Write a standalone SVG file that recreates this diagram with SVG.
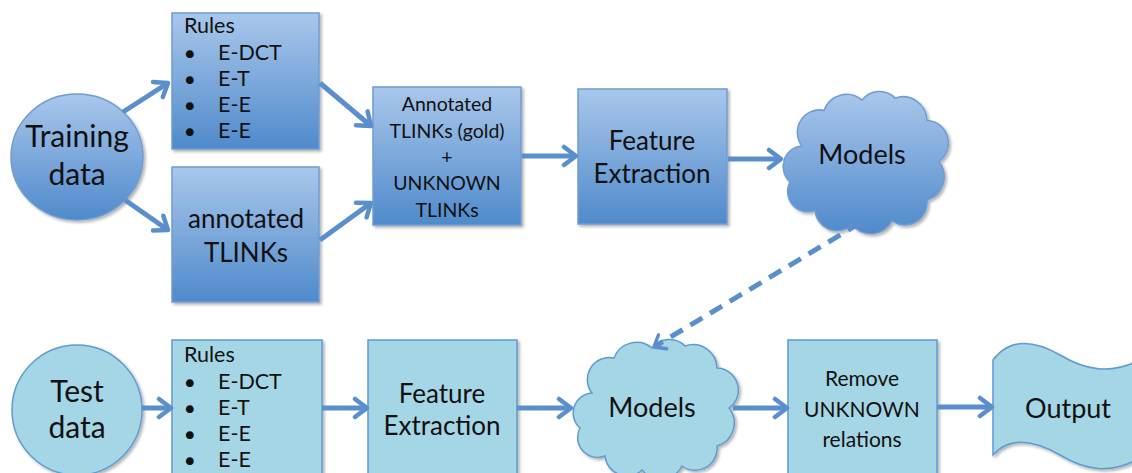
<svg xmlns="http://www.w3.org/2000/svg" width="1132" height="473" viewBox="0 0 1132 473">
<defs>
<linearGradient id="gTop" x1="0" y1="0" x2="0" y2="1">
<stop offset="0" stop-color="#a9c7eb"/>
<stop offset="1" stop-color="#4f8acb"/>
</linearGradient>
<filter id="sh" x="-10%" y="-10%" width="125%" height="125%">
<feDropShadow dx="2" dy="2" stdDeviation="1.5" flood-color="#000" flood-opacity="0.3"/>
</filter>
<marker id="ah" viewBox="0 0 18 24" refX="15" refY="12" markerWidth="18" markerHeight="24" markerUnits="userSpaceOnUse" orient="auto">
<path d="M3,3 L15,12 L3,21" fill="none" stroke="#5a8fcb" stroke-width="4.5" stroke-linecap="round" stroke-linejoin="round"/>
</marker>
<marker id="ahd" viewBox="0 0 16 22" refX="13" refY="11" markerWidth="16" markerHeight="22" markerUnits="userSpaceOnUse" orient="auto">
<path d="M3,3 L13,11 L3,19" fill="none" stroke="#5a8fcb" stroke-width="3.5" stroke-linecap="round" stroke-linejoin="round"/>
</marker>
<path id="cloud" d="M20,55 A22,22 0 0 1 42,20 A24,24 0 0 1 80,10 A22,22 0 0 1 113,8 A24,24 0 0 1 145,30 A22,22 0 0 1 157,70 A24,24 0 0 1 145,108 A22,22 0 0 1 110,128 A24,24 0 0 1 70,132 A22,22 0 0 1 33,118 A20,20 0 0 1 8,90 A20,20 0 0 1 20,55 Z"/>
</defs>
<style>
.top{fill:url(#gTop);stroke:#6f9cd3;stroke-width:1.5;filter:url(#sh)}
.bot{fill:#a5d6e6;stroke:#5f9bd2;stroke-width:1.5;filter:url(#sh)}
text{font-family:Lato,"Liberation Sans",sans-serif;fill:#111}
.c{text-anchor:middle}
.li{font-size:21.5px}
.b{font-size:16px}
.cn{stroke:#5a8fcb;stroke-width:5;fill:none;marker-end:url(#ah)}
.dash{stroke:#5a8fcb;stroke-width:5;fill:none;stroke-dasharray:14 9;marker-end:url(#ahd)}
</style>

<g id="training">
<ellipse class="top" cx="77" cy="157" rx="66" ry="63"/>
<text class="c" x="77" y="147" font-size="30">Training</text>
<text class="c" x="77" y="185" font-size="30">data</text>
</g>
<g id="rules-top">
<rect class="top" x="172" y="13" width="147" height="136"/>
<text class="li" x="184" y="33">Rules</text>
<text class="b" x="185" y="59">●</text><text class="li" x="218" y="60">E-DCT</text>
<text class="b" x="185" y="85">●</text><text class="li" x="218" y="86">E-T</text>
<text class="b" x="185" y="111">●</text><text class="li" x="218" y="112">E-E</text>
<text class="b" x="185" y="137">●</text><text class="li" x="218" y="138">E-E</text>
</g>
<g id="annotated">
<rect class="top" x="172" y="167" width="147" height="135"/>
<text class="c" x="246" y="228" font-size="26">annotated</text>
<text class="c" x="246" y="262" font-size="26">TLINKs</text>
</g>
<g id="combined">
<rect class="top" x="373" y="87" width="148" height="138"/>
<text class="c" x="447" y="111" font-size="19.5">Annotated</text>
<text class="c" x="447" y="138" font-size="19.5">TLINKs (gold)</text>
<text class="c" x="447" y="164" font-size="19.5">+</text>
<text class="c" x="447" y="190" font-size="19.5">UNKNOWN</text>
<text class="c" x="447" y="217" font-size="19.5">TLINKs</text>
</g>
<g id="feature-top">
<rect class="top" x="578" y="89" width="149" height="135"/>
<text class="c" x="652" y="150" font-size="26">Feature</text>
<text class="c" x="652" y="183" font-size="26">Extraction</text>
</g>
<g id="models-top">
<use href="#cloud" class="top" transform="translate(782,90) scale(1.0,1.02)"/>
<text class="c" x="862" y="164" font-size="27">Models</text>
</g>

<g id="test">
<circle class="bot" cx="77" cy="410" r="65"/>
<text class="c" x="77" y="402" font-size="30">Test</text>
<text class="c" x="77" y="438" font-size="30">data</text>
</g>
<g id="rules-bot">
<rect class="bot" x="172" y="340" width="150" height="145"/>
<text class="li" x="184" y="362">Rules</text>
<text class="b" x="185" y="388">●</text><text class="li" x="218" y="389">E-DCT</text>
<text class="b" x="185" y="414">●</text><text class="li" x="218" y="415">E-T</text>
<text class="b" x="185" y="440">●</text><text class="li" x="218" y="441">E-E</text>
<text class="b" x="185" y="466">●</text><text class="li" x="218" y="467">E-E</text>
</g>
<g id="feature-bot">
<rect class="bot" x="368" y="340" width="149" height="145"/>
<text class="c" x="442" y="403" font-size="26">Feature</text>
<text class="c" x="442" y="435" font-size="26">Extraction</text>
</g>
<g id="models-bot">
<use href="#cloud" class="bot" transform="translate(572,338)"/>
<text class="c" x="652" y="417" font-size="27">Models</text>
</g>
<g id="remove">
<rect class="bot" x="788" y="340" width="149" height="145"/>
<text class="c" x="862" y="386" font-size="21">Remove</text>
<text class="c" x="862" y="417" font-size="21">UNKNOWN</text>
<text class="c" x="862" y="447" font-size="21">relations</text>
</g>
<g id="output">
<path class="bot" d="M993,360 C1008,340 1030,338 1060,355 C1085,370 1110,375 1140,360 L1140,458 C1110,475 1085,470 1060,455 C1030,438 1008,438 993,455 Z"/>
<text class="c" x="1068" y="418" font-size="27">Output</text>
</g>

<g id="connectors">
<line class="cn" x1="123" y1="112" x2="168" y2="83"/>
<line class="cn" x1="125" y1="200" x2="168" y2="230"/>
<line class="cn" x1="320" y1="83" x2="371" y2="126"/>
<line class="cn" x1="320" y1="240" x2="371" y2="203"/>
<line class="cn" x1="522" y1="156" x2="576" y2="156"/>
<line class="cn" x1="728" y1="159" x2="781" y2="159"/>
<line class="dash" x1="860" y1="223" x2="654" y2="347"/>
<line class="cn" x1="142" y1="408" x2="171" y2="408"/>
<line class="cn" x1="322" y1="408" x2="367" y2="408"/>
<line class="cn" x1="517" y1="408" x2="571" y2="408"/>
<line class="cn" x1="733" y1="408" x2="787" y2="408"/>
<line class="cn" x1="937" y1="407" x2="992" y2="407"/>
</g>
</svg>
